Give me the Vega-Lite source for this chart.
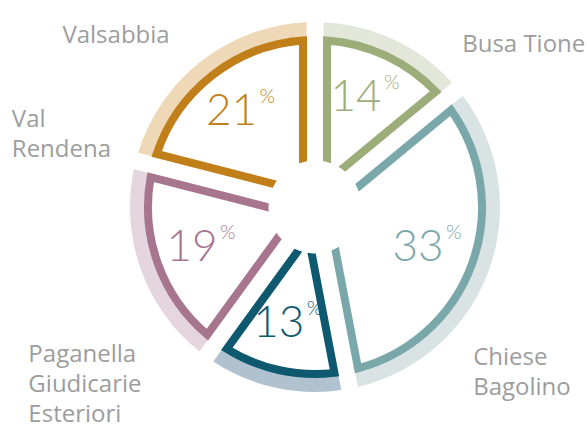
{
  "$schema": "https://vega.github.io/schema/vega-lite/v6.json",
  "width": 544,
  "height": 414,
  "autosize": {"type": "none"},
  "padding": {"left": 43, "top": 0, "right": 0, "bottom": 16},
  "background": "white",
  "config": {"view": {"stroke": null}},
  "data": {
    "values": [
      {"region": "Busa Tione", "value": 14, "label": "Busa Tione", "pct": "14"},
      {"region": "Chiese Bagolino", "value": 33, "label": "Chiese\nBagolino", "pct": "33"},
      {"region": "Paganella Giudicarie Esteriori", "value": 13, "label": "Paganella\nGiudicarie\nEsteriori", "pct": "13"},
      {"region": "Val Rendena", "value": 19, "label": "Val\nRendena", "pct": "19"},
      {"region": "Valsabbia", "value": 21, "label": "Valsabbia", "pct": "21"}
    ]
  },
  "layer": [
    {
      "mark": {"type": "arc", "innerRadius": 165, "outerRadius": 185, "padAngle": 0.0686},
      "encoding": {
        "theta": {"field": "value", "type": "quantitative", "stack": true},
        "fill": {
          "field": "region", "type": "nominal", "legend": null,
          "scale": {
            "domain": ["Busa Tione", "Chiese Bagolino", "Paganella Giudicarie Esteriori", "Val Rendena", "Valsabbia"],
            "range": ["#e2e7d9", "#d9e3e4", "#b0c2cf", "#e4d5de", "#eed8b8"]
          }
        }
      }
    },
    {
      "mark": {"type": "arc", "innerRadius": 36, "outerRadius": 167, "padAngle": 0.1406, "fill": "white", "strokeWidth": 8, "strokeJoin": "miter"},
      "encoding": {
        "theta": {"field": "value", "type": "quantitative", "stack": true},
        "stroke": {
          "field": "region", "type": "nominal", "legend": null,
          "scale": {
            "domain": ["Busa Tione", "Chiese Bagolino", "Paganella Giudicarie Esteriori", "Val Rendena", "Valsabbia"],
            "range": ["#9cad7a", "#7aa8aa", "#0e5870", "#a8758f", "#c17f19"]
          }
        }
      }
    },
    {
      "mark": {"type": "arc", "innerRadius": 0, "outerRadius": 46, "fill": "white", "stroke": "white", "strokeWidth": 1},
      "encoding": {
        "theta": {"field": "value", "type": "quantitative", "stack": true},
        "detail": {"field": "region", "type": "nominal"}
      }
    },
    {
      "mark": {"type": "text", "radius": 120, "font": "Lato", "fontWeight": 300, "fontSize": 44, "align": "center", "baseline": "middle", "dx": -10},
      "encoding": {
        "theta": {"field": "value", "type": "quantitative", "stack": true},
        "text": {"field": "pct", "type": "nominal"},
        "color": {
          "field": "region", "type": "nominal", "legend": null,
          "scale": {
            "domain": ["Busa Tione", "Chiese Bagolino", "Paganella Giudicarie Esteriori", "Val Rendena", "Valsabbia"],
            "range": ["#9cad7a", "#7aa8aa", "#0e5870", "#a8758f", "#c17f19"]
          }
        }
      }
    },
    {
      "mark": {"type": "text", "radius": 120, "font": "Lato", "fontWeight": 300, "fontSize": 20, "align": "left", "baseline": "middle", "dx": 18, "dy": -15, "text": "%"},
      "encoding": {
        "theta": {"field": "value", "type": "quantitative", "stack": true},
        "color": {"field": "region", "type": "nominal", "legend": null}
      }
    },
    {
      "mark": {"type": "text", "radius": 200, "font": "Open Sans", "fontSize": 24, "color": "#9d9d9d", "align": "left", "baseline": "alphabetic", "lineBreak": "\n", "lineHeight": 30, "dx": 62, "dy": 26},
      "encoding": {
        "theta": {"field": "value", "type": "quantitative", "stack": true},
        "detail": {"field": "region", "type": "nominal"},
        "text": {"condition": {"test": "datum.region === 'Busa Tione'", "field": "label", "type": "nominal"}, "value": ""}
      }
    },
    {
      "mark": {"type": "text", "radius": 200, "font": "Open Sans", "fontSize": 24, "color": "#9d9d9d", "align": "left", "baseline": "alphabetic", "lineBreak": "\n", "lineHeight": 30, "dx": -30, "dy": 90},
      "encoding": {
        "theta": {"field": "value", "type": "quantitative", "stack": true},
        "detail": {"field": "region", "type": "nominal"},
        "text": {"condition": {"test": "datum.region === 'Chiese Bagolino'", "field": "label", "type": "nominal"}, "value": ""}
      }
    },
    {
      "mark": {"type": "text", "radius": 200, "font": "Open Sans", "fontSize": 24, "color": "#9d9d9d", "align": "left", "baseline": "alphabetic", "lineBreak": "\n", "lineHeight": 30, "dx": -243, "dy": -40},
      "encoding": {
        "theta": {"field": "value", "type": "quantitative", "stack": true},
        "detail": {"field": "region", "type": "nominal"},
        "text": {"condition": {"test": "datum.region === 'Paganella Giudicarie Esteriori'", "field": "label", "type": "nominal"}, "value": ""}
      }
    },
    {
      "mark": {"type": "text", "radius": 200, "font": "Open Sans", "fontSize": 24, "color": "#9d9d9d", "align": "left", "baseline": "alphabetic", "lineBreak": "\n", "lineHeight": 30, "dx": -115, "dy": -148},
      "encoding": {
        "theta": {"field": "value", "type": "quantitative", "stack": true},
        "detail": {"field": "region", "type": "nominal"},
        "text": {"condition": {"test": "datum.region === 'Val Rendena'", "field": "label", "type": "nominal"}, "value": ""}
      }
    },
    {
      "mark": {"type": "text", "radius": 200, "font": "Open Sans", "fontSize": 24, "color": "#9d9d9d", "align": "left", "baseline": "alphabetic", "lineBreak": "\n", "lineHeight": 30, "dx": -130, "dy": -6},
      "encoding": {
        "theta": {"field": "value", "type": "quantitative", "stack": true},
        "detail": {"field": "region", "type": "nominal"},
        "text": {"condition": {"test": "datum.region === 'Valsabbia'", "field": "label", "type": "nominal"}, "value": ""}
      }
    }
  ]
}
